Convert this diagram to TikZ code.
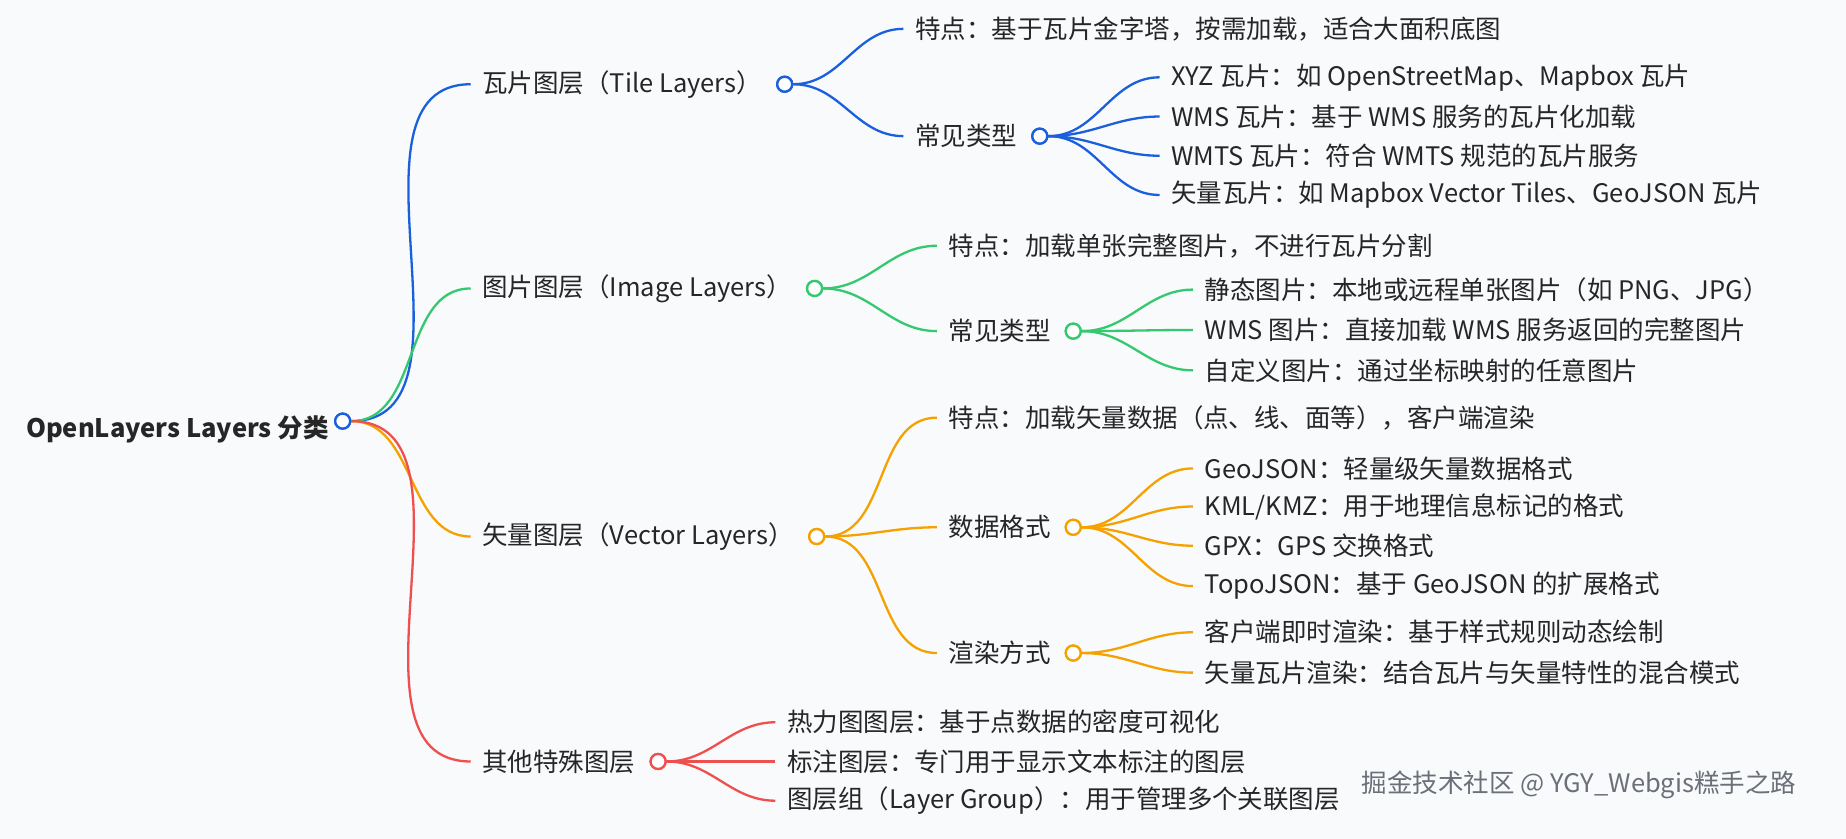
\documentclass[tikz,border=0pt]{standalone}
\usepackage{fontspec}
\setmainfont{Noto Sans CJK SC}
\definecolor{bg}{HTML}{F8FAFC}
\definecolor{cb}{HTML}{1A5FDC}
\definecolor{cg}{HTML}{34C96F}
\definecolor{co}{HTML}{F5A100}
\definecolor{cr}{HTML}{EE4F4F}
\definecolor{wm}{HTML}{6B6F78}
\begin{document}
\begin{tikzpicture}[x=1.154pt,y=-1.154pt,
  t/.style={anchor=west,inner xsep=11.5pt,inner ysep=0pt,font=\fontsize{25.5}{30}\selectfont,text=black!85},
  circ/.style={circle,draw=#1,line width=2.3pt,fill=white,minimum size=15pt,inner sep=0pt},
  lk/.style={draw=#1,line width=2.3pt},
]
\fill[bg] (0,0) rectangle (1600,727);
\useasboundingbox (0,0) rectangle (1600,727);
% root
\node[t,anchor=east,inner xsep=0pt,font=\fontsize{25.5}{30}\selectfont\bfseries] (r) at (285,372) {OpenLayers Layers 分类};
\node[circ=cb] (rc) at (297,365) {};
% level 1
\node[t] (a) at (408,73) {瓦片图层（Tile Layers）};
\node[circ=cb] (ac) at ([xshift=11pt]a.east) {};
\node[t] (b) at (408,250) {图片图层（Image Layers）};
\node[circ=cg] (bc) at ([xshift=11pt]b.east) {};
\node[t] (c) at (408,465) {矢量图层（Vector Layers）};
\node[circ=co] (cc) at ([xshift=11pt]c.east) {};
\node[t] (d) at (408,660) {其他特殊图层};
\node[circ=cr] (dc) at ([xshift=11pt]d.east) {};
\draw[lk=cb] (rc.east) to[out=0,in=180] (a.west);
\draw[lk=cg] (rc.east) to[out=0,in=180] (b.west);
\draw[lk=co] (rc.east) to[out=0,in=180] (c.west);
\draw[lk=cr] (rc.east) to[out=0,in=180] (d.west);
% tile
\node[t] (a1) at (783,25) {特点：基于瓦片金字塔，按需加载，适合大面积底图};
\node[t] (a2) at (783,118) {常见类型};
\node[circ=cb] (a2c) at ([xshift=11pt]a2.east) {};
\draw[lk=cb] (ac.east) to[out=0,in=180] (a1.west);
\draw[lk=cb] (ac.east) to[out=0,in=180] (a2.west);
\node[t] (a21) at (1005,67) {XYZ 瓦片：如 OpenStreetMap、Mapbox 瓦片};
\node[t] (a22) at (1005,101) {WMS 瓦片：基于 WMS 服务的瓦片化加载};
\node[t] (a23) at (1005,135) {WMTS 瓦片：符合 WMTS 规范的瓦片服务};
\node[t] (a24) at (1005,169) {矢量瓦片：如 Mapbox Vector Tiles、GeoJSON 瓦片};
\foreach \n in {a21,a22,a23,a24} \draw[lk=cb] (a2c.east) to[out=0,in=180] (\n.west);
% image
\node[t] (b1) at (812,213) {特点：加载单张完整图片，不进行瓦片分割};
\node[t] (b2) at (812,287) {常见类型};
\node[circ=cg] (b2c) at ([xshift=11pt]b2.east) {};
\draw[lk=cg] (bc.east) to[out=0,in=180] (b1.west);
\draw[lk=cg] (bc.east) to[out=0,in=180] (b2.west);
\node[t] (b21) at (1034,251) {静态图片：本地或远程单张图片（如 PNG、JPG）};
\node[t] (b22) at (1034,286) {WMS 图片：直接加载 WMS 服务返回的完整图片};
\node[t] (b23) at (1034,321) {自定义图片：通过坐标映射的任意图片};
\foreach \n in {b21,b22,b23} \draw[lk=cg] (b2c.east) to[out=0,in=180] (\n.west);
% vector
\node[t] (c1) at (812,362) {特点：加载矢量数据（点、线、面等），客户端渲染};
\node[t] (c2) at (812,457) {数据格式};
\node[circ=co] (c2c) at ([xshift=11pt]c2.east) {};
\node[t] (c3) at (812,566) {渲染方式};
\node[circ=co] (c3c) at ([xshift=11pt]c3.east) {};
\foreach \n in {c1,c2,c3} \draw[lk=co] (cc.east) to[out=0,in=180] (\n.west);
\node[t] (c21) at (1034,406) {GeoJSON：轻量级矢量数据格式};
\node[t] (c22) at (1034,439) {KML/KMZ：用于地理信息标记的格式};
\node[t] (c23) at (1034,473) {GPX：GPS 交换格式};
\node[t] (c24) at (1034,508) {TopoJSON：基于 GeoJSON 的扩展格式};
\foreach \n in {c21,c22,c23,c24} \draw[lk=co] (c2c.east) to[out=0,in=180] (\n.west);
\node[t] (c31) at (1034,548) {客户端即时渲染：基于样式规则动态绘制};
\node[t] (c32) at (1034,583) {矢量瓦片渲染：结合瓦片与矢量特性的混合模式};
\foreach \n in {c31,c32} \draw[lk=co] (c3c.east) to[out=0,in=180] (\n.west);
% other
\node[t] (d1) at (672,626) {热力图图层：基于点数据的密度可视化};
\node[t] (d2) at (672,660) {标注图层：专门用于显示文本标注的图层};
\node[t] (d3) at (672,694) {图层组（Layer Group）：用于管理多个关联图层};
\foreach \n in {d1,d2,d3} \draw[lk=cr] (dc.east) to[out=0,in=180] (\n.west);
% redraw circles on top
\foreach \n/\c in {rc/cb,ac/cb,a2c/cb,bc/cg,b2c/cg,cc/co,c2c/co,c3c/co,dc/cr}
  \node[circ=\c] at (\n) {};
% watermark
\node[t,text=wm,inner xsep=0pt] (w) at (1180,680) {掘金技术社区 @ YGY\_Webgis糕手之路};
\end{tikzpicture}
\end{document}
